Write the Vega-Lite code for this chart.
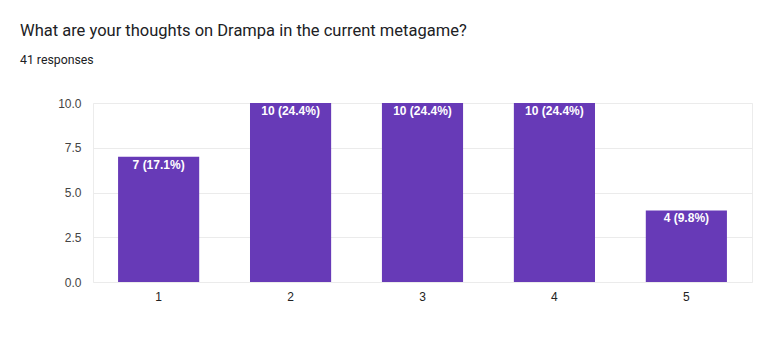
{
  "$schema": "https://vega.github.io/schema/vega-lite/v6.json",
  "autosize": "none",
  "width": 659,
  "height": 179,
  "padding": {"left": 93, "top": 103, "right": 7, "bottom": 72},
  "background": "white",
  "title": {
    "text": "What are your thoughts on Drampa in the current metagame?",
    "subtitle": "41 responses",
    "anchor": "start",
    "frame": "group",
    "dx": -73,
    "offset": 31,
    "font": "Roboto",
    "fontSize": 16.5,
    "fontWeight": "normal",
    "color": "#202124",
    "subtitleFont": "Roboto",
    "subtitleFontSize": 12.3,
    "subtitleColor": "#202124",
    "subtitlePadding": 14
  },
  "data": {
    "values": [
      {"option": "1", "count": 7, "label": "7 (17.1%)"},
      {"option": "2", "count": 10, "label": "10 (24.4%)"},
      {"option": "3", "count": 10, "label": "10 (24.4%)"},
      {"option": "4", "count": 10, "label": "10 (24.4%)"},
      {"option": "5", "count": 4, "label": "4 (9.8%)"}
    ]
  },
  "config": {
    "view": {"stroke": "#ececec"},
    "font": "Liberation Sans"
  },
  "encoding": {
    "x": {
      "field": "option",
      "type": "nominal",
      "sort": null,
      "scale": {"paddingInner": 0.385, "paddingOuter": 0.19},
      "axis": {
        "title": null,
        "labelAngle": 0,
        "labelFontSize": 12,
        "labelColor": "#222222",
        "labelFont": "Liberation Sans",
        "ticks": false,
        "domain": false,
        "labelPadding": 9,
        "grid": false
      }
    },
    "y": {
      "field": "count",
      "type": "quantitative",
      "scale": {"domain": [0, 10], "nice": false},
      "axis": {
        "title": null,
        "values": [0, 2.5, 5, 7.5, 10],
        "format": ".1f",
        "labelFontSize": 12,
        "labelColor": "#444444",
        "labelFont": "Liberation Sans",
        "ticks": false,
        "domain": false,
        "labelPadding": 12,
        "gridColor": "#ebebeb"
      }
    }
  },
  "layer": [
    {"mark": {"type": "bar", "color": "#673ab7"}},
    {
      "mark": {
        "type": "text",
        "color": "white",
        "baseline": "top",
        "dy": 3,
        "fontSize": 12,
        "fontWeight": "bold",
        "font": "Liberation Sans"
      },
      "encoding": {"text": {"field": "label"}}
    },
    {
      "mark": {"type": "rule", "color": "#333333", "strokeWidth": 1},
      "encoding": {"y": {"datum": 0}}
    }
  ]
}
